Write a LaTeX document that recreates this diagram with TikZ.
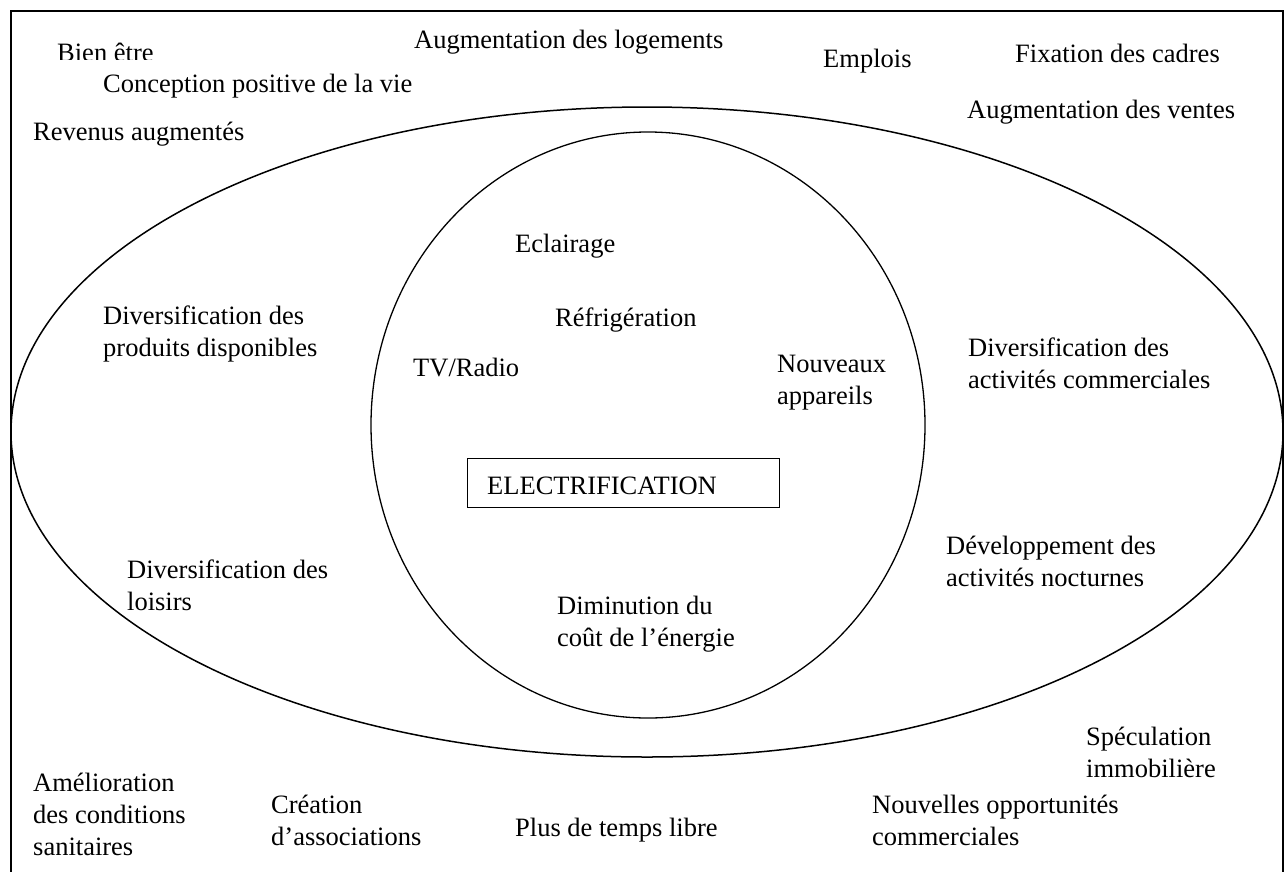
\documentclass[tikz,border=0pt]{standalone}
\usepackage{fontspec}
\setmainfont{Liberation Serif}
\newcommand\mylines[1]{\begin{tabular}[t]{@{}l@{}}#1\end{tabular}}
\begin{document}
\begin{tikzpicture}[x=1pt,y=-1pt,
  lbl/.style={anchor=base west, inner sep=0pt, font=\fontsize{26.5}{32}\selectfont},
  frame/.style={line width=1.8pt},
  zone/.style={line width=1.5pt},
  core/.style={line width=1.3pt}]
\useasboundingbox (0,0) rectangle (1285,871);
% outer frame (open at the bottom)
\draw[frame] (11,880) -- (11,11) -- (1283,11) -- (1283,880);
% big ellipse and inner circle
\draw[zone] (647,432) ellipse [x radius=636pt, y radius=325pt];
\draw[core] (648,425) ellipse [x radius=277pt, y radius=293pt];
% central box
\node[draw, core, anchor=north west, minimum width=312pt, minimum height=49pt, inner sep=0pt] (boxe) at (467,458) {};
\node[lbl] (elec) at (487,494) {ELECTRIFICATION};
% top labels
\begin{scope}
\clip (0,0) rectangle (1285,59);
\node[lbl] (bien) at (57,61) {Bien être};
\end{scope}
\node[lbl] (logements) at (414,48) {Augmentation des logements};
\node[lbl] (emplois) at (823,67) {Emplois};
\node[lbl] (cadres) at (1015,62) {Fixation des cadres};
\node[lbl] (conception) at (103,92) {Conception positive de la vie};
\node[lbl] (ventes) at (967,118) {Augmentation des ventes};
\node[lbl] (revenus) at (33,140) {Revenus augmentés};
% inside circle
\node[lbl] (eclairage) at (515,252) {Eclairage};
\node[lbl] (refrig) at (555,326) {Réfrigération};
\node[lbl] (appareils) at (777,372) {\mylines{Nouveaux\\appareils}};
\node[lbl] (tv) at (413,376) {TV/Radio};
\node[lbl] (cout) at (557,614) {\mylines{Diminution du\\coût de l’énergie}};
% inside ellipse
\node[lbl] (produits) at (103,324) {\mylines{Diversification des\\produits disponibles}};
\node[lbl] (loisirs) at (127,578) {\mylines{Diversification des\\loisirs}};
\node[lbl] (activites) at (968,356) {\mylines{Diversification des\\activités commerciales}};
\node[lbl] (nocturnes) at (946,554) {\mylines{Développement des\\activités nocturnes}};
% bottom labels
\node[lbl] (speculation) at (1086,745) {\mylines{Spéculation\\immobilière}};
\node[lbl] (sanitaires) at (33,791) {\mylines{Amélioration\\des conditions\\sanitaires}};
\node[lbl] (associations) at (271,813) {\mylines{Création\\d’associations}};
\node[lbl] (temps) at (515,836) {Plus de temps libre};
\node[lbl] (opportunites) at (872,813) {\mylines{Nouvelles opportunités\\commerciales}};
\end{tikzpicture}
\end{document}
